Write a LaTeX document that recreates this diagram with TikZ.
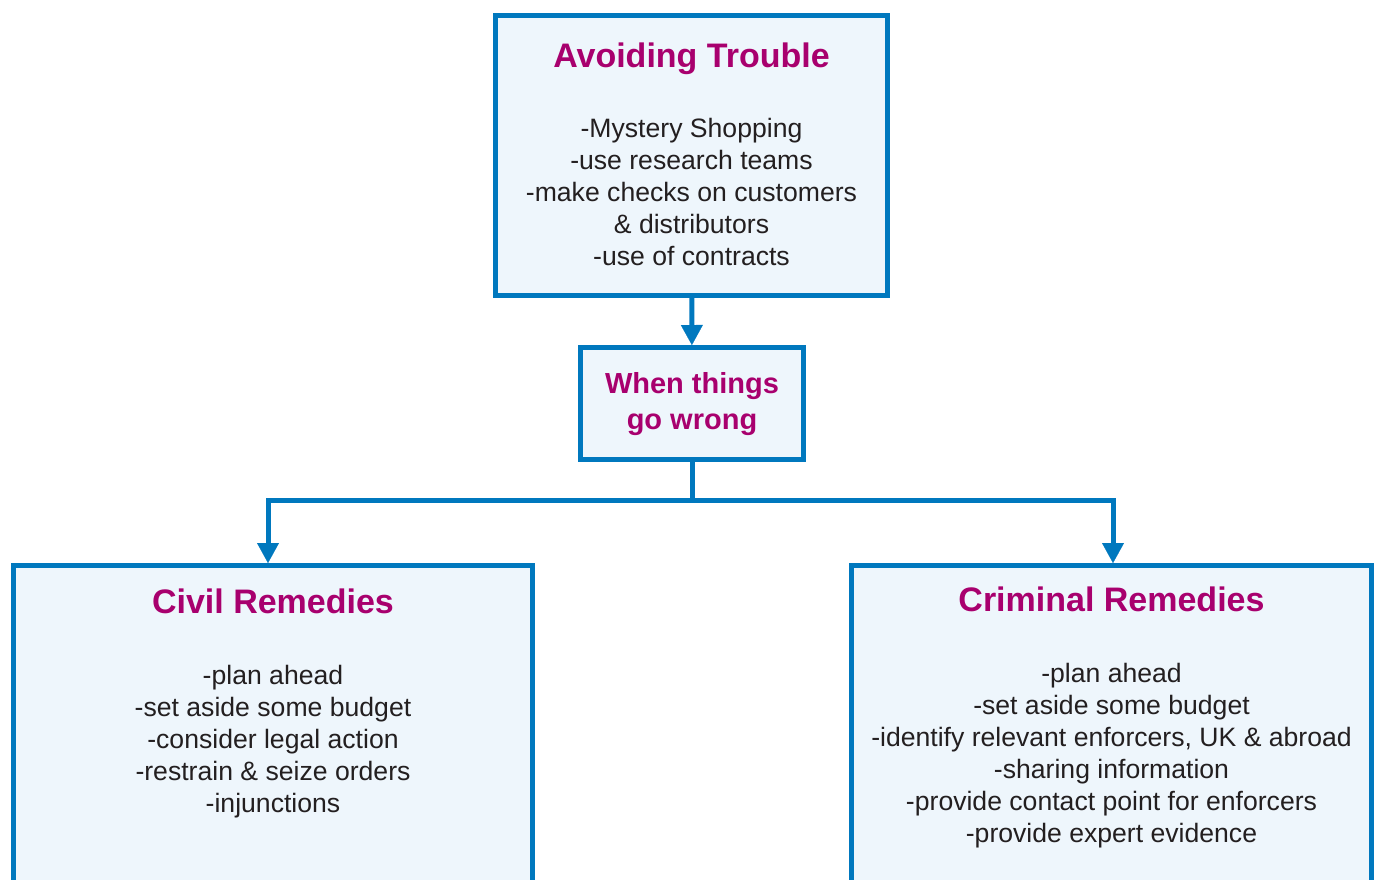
\documentclass[tikz,border=0pt]{standalone}
\usepackage{fontspec}
\setmainfont{Liberation Sans}
\usetikzlibrary{positioning,arrows.meta}

\definecolor{boxline}{RGB}{0,120,190}
\definecolor{boxfill}{RGB}{238,246,252}
\definecolor{headcol}{RGB}{168,0,110}
\definecolor{bodycol}{RGB}{35,31,32}

\begin{document}
\begin{tikzpicture}[x=0.5pt, y=-0.5pt,
    >={Triangle[width=11pt,length=10pt,line width=0.1pt]},
    panel/.style={draw=boxline, fill=boxfill, line width=2.5pt, inner sep=0pt},
    head/.style={text=headcol, inner sep=0pt, font=\fontsize{17}{20}\selectfont\bfseries},
    items/.style={text=bodycol, inner sep=0pt, align=center, font=\fontsize{13.3}{16}\selectfont},
    link/.style={draw=boxline, line width=2.5pt}]
  % Page
  \useasboundingbox (0,0) rectangle (1381,879);
  \clip (0,0) rectangle (1381,879);

  % Boxes
  \node[panel, minimum width=196pt, minimum height=140pt] (top) at (691.5,155.5) {};
  \node[panel, minimum width=111.5pt, minimum height=56pt] (mid) at (692,403.5) {};
  \node[panel, minimum width=259.5pt, minimum height=190pt, anchor=north] (civil) at (273,563) {};
  \node[panel, minimum width=260pt, minimum height=190pt, anchor=north] (crim) at (1111.5,563) {};

  % Top box text
  \node[head, below=27.25pt of top.north, anchor=base] (toptitle) {Avoiding Trouble};
  \node[items, below=52.2pt of top.north] (toplist) {-Mystery Shopping\\-use research teams\\-make checks on customers\\\& distributors\\-use of contracts};

  % Middle box text
  \node[items, below=13.7pt of mid.north, text=headcol,
        font=\fontsize{14.5}{18}\selectfont\bfseries] (midtitle) {When things\\go wrong};

  % Bottom box text
  \node[head, below=25pt of civil.north, anchor=base] (civiltitle) {Civil Remedies};
  \node[items, below=50.85pt of civil.north] (civillist) {-plan ahead\\-set aside some budget\\-consider legal action\\-restrain \& seize orders\\-injunctions};
  \node[head, below=24pt of crim.north, anchor=base] (crimtitle) {Criminal Remedies};
  \node[items, below=49.85pt of crim.north] (crimlist) {-plan ahead\\-set aside some budget\\-identify relevant enforcers, UK \& abroad\\-sharing information\\-provide contact point for enforcers\\-provide expert evidence};

  % Connectors
  \coordinate (fork) at (692,500.5);
  \draw[link,->] (top) -- (mid);
  \draw[link] (mid) -- (fork);
  \draw[link,->] (fork) -| ([xshift=-2.5pt]civil.north);
  \draw[link,->] (fork) -| ([xshift=0.75pt]crim.north);
\end{tikzpicture}
\end{document}
